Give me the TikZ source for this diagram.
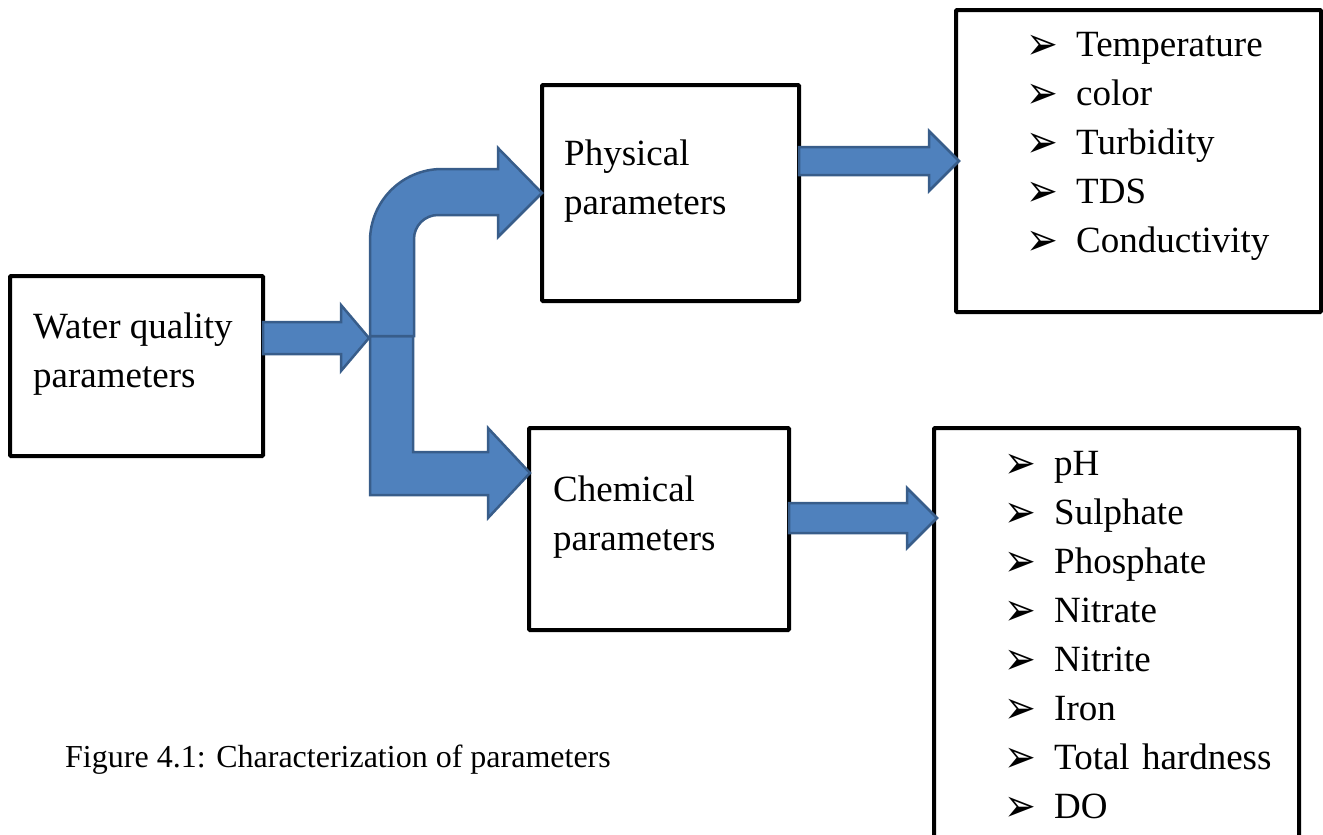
\documentclass[tikz,border=0pt]{standalone}
\usepackage{fontspec}
\setmainfont{Liberation Serif}
\newfontfamily\markfont{DejaVu Sans}
\usetikzlibrary{calc}

\definecolor{arrowfill}{HTML}{4F81BD}
\definecolor{arrowline}{HTML}{385D8A}

\newcommand{\itemmark}{\makebox[46pt][l]{\hspace*{-4pt}\raisebox{-3pt}{\scalebox{1}[1.2]{\markfont\fontsize{38}{38}\selectfont ➢}}}}

\begin{document}
\begin{tikzpicture}[x=1pt, y=-1pt, node distance=49pt, font=\fontsize{37}{49}\selectfont]
	\tikzstyle{box} = [draw, line width=4pt, rounded corners=1pt, inner sep=0pt, outer sep=0pt, anchor=north west]
	\tikzstyle{boxtext} = [align=left, inner sep=0pt, anchor=north west]
	\tikzstyle{listitem} = [text width=300pt, align=left, text height=27pt, text depth=10pt, inner sep=0pt]
	\tikzstyle{blockarrow} = [fill=arrowfill, draw=arrowline, line width=2.5pt, line join=miter]
	
	\useasboundingbox (0,0) rectangle (1323,835);
	
	\node[box, minimum width=253pt, minimum height=180pt] (water) at (10,276) {};
	\node[box, minimum width=257pt, minimum height=216pt] (physical) at (542,85) {};
	\node[box, minimum width=260pt, minimum height=202pt] (chemical) at (529,428) {};
	\node[box, minimum width=365pt, minimum height=302pt] (physlist) at (956,10) {};
	\node[box, minimum width=365pt, minimum height=417pt] (chemlist) at (934,428) {};
	
	\node[boxtext] (water-text) at (33,313) {Water quality\\parameters};
	\node[boxtext] (physical-text) at (564,140) {Physical\\parameters};
	\node[boxtext] (chemical-text) at (553,476) {Chemical\\parameters};
	
	\node[listitem, anchor=base west] (temperature) at (1030,56) {\itemmark Temperature};
	\node[listitem] (color) [below of=temperature] {\itemmark color};
	\node[listitem] (turbidity) [below of=color] {\itemmark Turbidity};
	\node[listitem] (tds) [below of=turbidity] {\itemmark TDS};
	\node[listitem] (conductivity) [below of=tds] {\itemmark Conductivity};
	
	\node[listitem, anchor=base west] (ph) at (1008,475) {\itemmark pH};
	\node[listitem] (sulphate) [below of=ph] {\itemmark Sulphate};
	\node[listitem] (phosphate) [below of=sulphate] {\itemmark Phosphate};
	\node[listitem] (nitrate) [below of=phosphate] {\itemmark Nitrate};
	\node[listitem] (nitrite) [below of=nitrate] {\itemmark Nitrite};
	\node[listitem] (iron) [below of=nitrite] {\itemmark Iron};
	\node[listitem] (hardness) [below of=iron] {\itemmark Total hardness};
	\node[listitem] (do) [below of=hardness] {\itemmark DO};
	
	\node[anchor=base west, inner sep=0pt, font=\fontsize{32}{38}\selectfont] (caption) at (65,767) {Figure 4.1: Characterization of parameters};
	
	\coordinate (split) at (369,338);
	\coordinate (chemin) at ($(chemical.west)+(1,-56)$);
	\coordinate (chemout) at ($(chemical.east)+(0,-11)$);
	
	% fork down to chemical
	\draw[blockarrow] (370,336) -- (370,495) -- (488,495) -- (488,518) -- (chemin) -- (488,428) -- (488,452) -- (413,452) -- (413,336) -- cycle;
	% fork up to physical
	\draw[blockarrow] (370,336) -- (370,241) arc[start angle=180, end angle=270, radius=72] -- (498,169) -- (498,148) -- (physical.west) -- (498,237) -- (498,215) -- (438,215) arc[start angle=270, end angle=180, radius=24] -- (414,336) -- cycle;
	% water -> fork
	\draw[blockarrow] ($(water.east |- split)+(0,-16)$) -- ($(split)+(-28,-16)$) -- ($(split)+(-28,-33)$) -- (split) -- ($(split)+(-28,33)$) -- ($(split)+(-28,16)$) -- ($(water.east |- split)+(0,16)$) -- cycle;
	% physical -> list
	\draw[blockarrow] ($(physical.east |- physlist.west)+(0,-14)$) -- ($(physlist.west)+(-27,-14)$) -- ($(physlist.west)+(-27,-30)$) -- ($(physlist.west)+(3,0)$) -- ($(physlist.west)+(-27,30)$) -- ($(physlist.west)+(-27,14)$) -- ($(physical.east |- physlist.west)+(0,14)$) -- cycle;
	% chemical -> list
	\draw[blockarrow] ($(chemout)+(0,-15)$) -- ($(chemout -| chemlist.west)+(-27,-15)$) -- ($(chemout -| chemlist.west)+(-27,-30)$) -- ($(chemout -| chemlist.west)+(3,0)$) -- ($(chemout -| chemlist.west)+(-27,30)$) -- ($(chemout -| chemlist.west)+(-27,15)$) -- ($(chemout)+(0,15)$) -- cycle;
\end{tikzpicture}
\end{document}
